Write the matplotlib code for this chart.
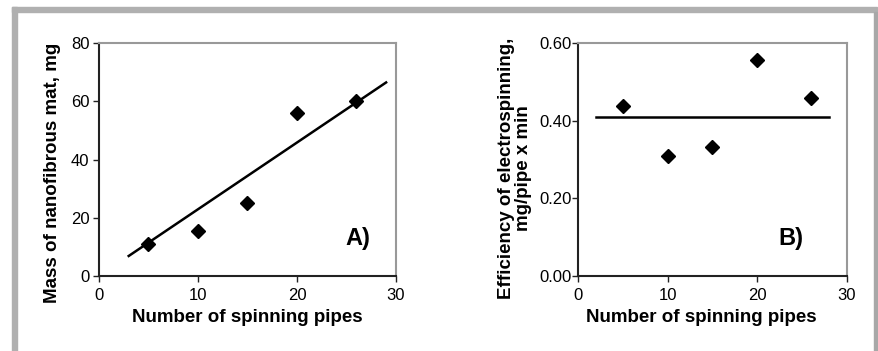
import matplotlib.pyplot as plt
import matplotlib.patches as mpatches
import numpy as np

plt.rcParams['font.family'] = ['Liberation Sans', 'DejaVu Sans']

# data
pipes = [5, 10, 15, 20, 26]
mass_mg = [10.9, 15.5, 25.0, 55.9, 60.2]
efficiency = [0.437, 0.308, 0.331, 0.557, 0.459]
efficiency_level = 0.41
trend_x = [3, 29]
level_x = [2, 28]

x_ticks = [0, 10, 20, 30]
mass_ticks = [0, 20, 40, 60, 80]
eff_ticks = [0.0, 0.2, 0.4, 0.6]
eff_tick_labels = ["0.00", "0.20", "0.40", "0.60"]

fig = plt.figure(figsize=(8.79, 3.51), dpi=100)

# grey frame around the whole figure (top, left, right)
frame_col = "#b0b0b0"
fig.patches.append(mpatches.Rectangle((12 / 879, 1 - 12 / 351), (877 - 12) / 879, 5 / 351,
                                      transform=fig.transFigure, color=frame_col, zorder=0))
fig.patches.append(mpatches.Rectangle((12 / 879, 0), 5 / 879, 1 - 7 / 351,
                                      transform=fig.transFigure, color=frame_col, zorder=0))
fig.patches.append(mpatches.Rectangle((874 / 879, 0), 3 / 879, 1 - 12 / 351,
                                      transform=fig.transFigure, color="#a8a8a8", zorder=0))

ax1 = fig.add_axes([99 / 879, 75 / 351, 297 / 879, 233 / 351])
ax2 = fig.add_axes([578 / 879, 75 / 351, 269 / 879, 233 / 351])


def style_axis(ax, ypad):
    for side in ["top", "right"]:
        ax.spines[side].set_color("#999999")
        ax.spines[side].set_linewidth(1.5)
    for side in ["left", "bottom"]:
        ax.spines[side].set_color("#222222")
        ax.spines[side].set_linewidth(1.5)
    ax.tick_params(axis="x", direction="out", length=4, width=1, pad=5, labelsize=12,
                   color="#222222")
    ax.tick_params(axis="y", direction="out", length=4, width=1, pad=ypad, labelsize=12,
                   color="#222222")
    ax.set_xlim(0, 30)
    ax.set_xticks(x_ticks)


# panel A: mass vs number of pipes, trend line through origin
slope = np.sum(np.array(pipes) * np.array(mass_mg)) / np.sum(np.array(pipes) ** 2)
ax1.plot(trend_x, [slope * v for v in trend_x], color="black", lw=1.8)
ax1.plot(pipes, mass_mg, "D", color="black", ms=7.5, zorder=3)
style_axis(ax1, 3)
ax1.set_ylim(0, 80)
ax1.set_yticks(mass_ticks)
ax1.set_xlabel("Number of spinning pipes", fontsize=13.5, fontweight="bold", labelpad=4)
ax1.set_ylabel("Mass of nanofibrous mat, mg", fontsize=13.5, fontweight="bold", labelpad=7)
ax1.yaxis.label.set_y(0.444)
ax1.text(0.912, 0.133, "A)", transform=ax1.transAxes, fontsize=17, fontweight="bold",
         ha="right", va="baseline")

# panel B: efficiency vs number of pipes, mean level
ax2.plot(level_x, [efficiency_level] * 2, color="black", lw=1.8)
ax2.plot(pipes, efficiency, "D", color="black", ms=7.5, zorder=3)
style_axis(ax2, 0.5)
ax2.set_ylim(0, 0.6)
ax2.set_yticks(eff_ticks)
ax2.set_yticklabels(eff_tick_labels)
ax2.set_xlabel("Number of spinning pipes", fontsize=13.5, fontweight="bold", labelpad=4)
ax2.xaxis.label.set_x(0.459)
ax2.set_ylabel("Efficiency of electrospinning,\nmg/pipe x min", fontsize=13.5,
               fontweight="bold", labelpad=5, linespacing=1.05)
ax2.yaxis.label.set_y(0.464)
ax2.text(0.836, 0.133, "B)", transform=ax2.transAxes, fontsize=17, fontweight="bold",
         ha="right", va="baseline")

plt.savefig("out.png", dpi=100)
